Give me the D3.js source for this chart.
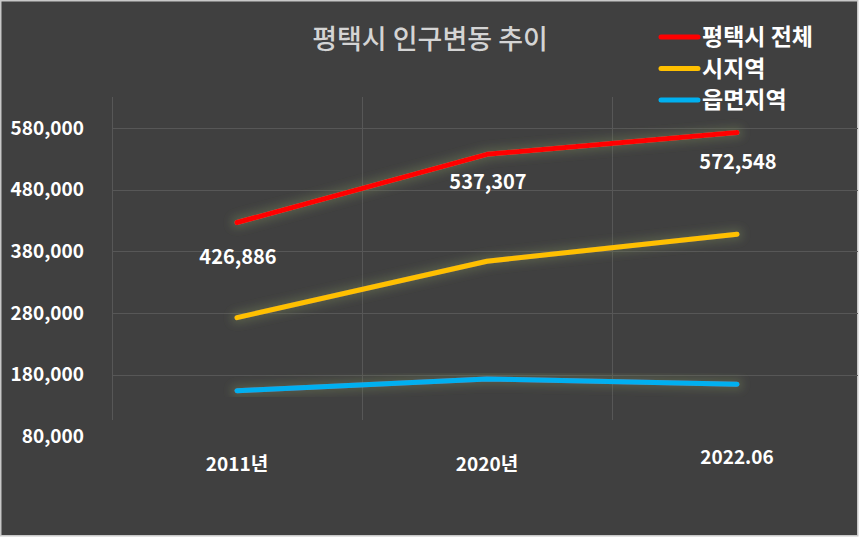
<!DOCTYPE html>
<html>
<head>
<meta charset="utf-8">
<script src="https://cdn.jsdelivr.net/npm/d3@7"></script>
<style>
	body { margin: 0; background: #ffffff; }
	svg text { font-family: "Noto Sans CJK KR", "Noto Sans", sans-serif; }
</style>
</head>
<body>
<svg id="chart" width="860" height="537"></svg>
<script>
// data
var categories = ['2011년', '2020년', '2022.06'];
var seriesNames = ['평택시 전체', '시지역', '읍면지역'];
var totalValues = [426886, 537307, 572548];
var cityValues = [272600, 364100, 407900];
var ruralValues = [154300, 173200, 164600];
var yTicks = [580000, 480000, 380000, 280000, 180000, 80000];
var colors = ['#ff0000', '#ffc000', '#00b0f0'];

var width = 860, height = 537;
var svg = d3.select('#chart');

//background and frame
svg.append('rect')
	.attr('x', 0.75).attr('y', 0.75)
	.attr('width', 857).attr('height', 535)
	.attr('fill', '#404040')
	.attr('stroke', '#c8c8c8')
	.attr('stroke-width', 1.5);

//glow filter behind the lines
var defs = svg.append('defs');
var glow = defs.append('filter').attr('id', 'glow')
	.attr('x', '-20%').attr('y', '-50%').attr('width', '140%').attr('height', '200%');
glow.append('feMorphology').attr('in', 'SourceAlpha').attr('operator', 'dilate').attr('radius', 3).attr('result', 'thick');
glow.append('feGaussianBlur').attr('in', 'thick').attr('stdDeviation', 4.5).attr('result', 'blur');
glow.append('feFlood').attr('flood-color', '#6f7d55').attr('flood-opacity', 0.45);
glow.append('feComposite').attr('in2', 'blur').attr('operator', 'in').attr('result', 'halo');
var merge = glow.append('feMerge');
merge.append('feMergeNode').attr('in', 'halo');
merge.append('feMergeNode').attr('in', 'SourceGraphic');

var x = d3.scaleBand().domain(categories).range([112, 862]);
var y = d3.scaleLinear().domain([80000, 580000]).range([436.5, 128]);

var plotTop = 97, plotBottom = 420;

//vertical gridlines at band edges
svg.append('g').selectAll('line')
	.data(categories)
	.enter()
	.append('line')
	.attr('x1', function(d){ return x(d) + 0.5; })
	.attr('x2', function(d){ return x(d) + 0.5; })
	.attr('y1', plotTop)
	.attr('y2', plotBottom)
	.attr('stroke', '#575757')
	.attr('stroke-width', 1);

//horizontal gridlines
svg.append('g').selectAll('line')
	.data(yTicks.filter(function(t){ return y(t) < plotBottom; }))
	.enter()
	.append('line')
	.attr('x1', 112)
	.attr('x2', 858)
	.attr('y1', function(d){ return Math.round(y(d)) + 0.5; })
	.attr('y2', function(d){ return Math.round(y(d)) + 0.5; })
	.attr('stroke', '#575757')
	.attr('stroke-width', 1);

//y axis labels
var yAxis = d3.axisLeft(y).tickValues(yTicks).tickSize(0).tickPadding(0)
	.tickFormat(d3.format(','));
var yg = svg.append('g').attr('transform', 'translate(84,0)').call(yAxis);
yg.select('.domain').remove();
yg.selectAll('text')
	.attr('fill', '#ffffff')
	.attr('font-size', 19)
	.attr('font-weight', 'bold')
	.style('font-family', '"Noto Sans CJK KR", sans-serif');

//x axis labels
var xAxis = d3.axisBottom(x).tickSize(0).tickPadding(0);
var xg = svg.append('g').attr('transform', 'translate(0,462)').call(xAxis);
xg.select('.domain').remove();
xg.selectAll('text')
	.attr('fill', '#ffffff')
	.attr('font-size', 19)
	.attr('font-weight', 'bold')
	.attr('dy', function(d, i){ return i == 2 ? '0.1em' : '0.45em'; })
	.style('font-family', '"Noto Sans CJK KR", sans-serif');

//lines
var series = [totalValues, cityValues, ruralValues];
var line = d3.line()
	.x(function(d, i){ return x(categories[i]) + x.bandwidth() / 2; })
	.y(function(d){ return y(d); });

svg.append('g').selectAll('path')
	.data(series.slice().reverse())
	.enter()
	.append('path')
	.attr('d', line)
	.attr('fill', 'none')
	.attr('stroke', function(d, i){ return colors[2 - i]; })
	.attr('stroke-width', 5)
	.attr('stroke-linecap', 'round')
	.attr('stroke-linejoin', 'round')
	.attr('filter', 'url(#glow)');

//data labels for the total
var labelOffsets = [35, 28, 29];
svg.append('g').selectAll('text')
	.data(totalValues)
	.enter()
	.append('text')
	.attr('x', function(d, i){ return x(categories[i]) + x.bandwidth() / 2 + 1; })
	.attr('y', function(d, i){ return y(d) + labelOffsets[i]; })
	.attr('dy', '0.35em')
	.attr('text-anchor', 'middle')
	.attr('fill', '#ffffff')
	.attr('font-size', 20)
	.attr('font-weight', 'bold')
	.text(function(d){ return d3.format(',')(d); });

//title
svg.append('text')
	.attr('x', 430)
	.attr('y', 40)
	.attr('dy', '0.35em')
	.attr('text-anchor', 'middle')
	.attr('fill', '#d4d4d4')
	.attr('font-size', 27)
	.attr('font-weight', 500)
	.text('평택시 인구변동 추이');

//legend
var legend = svg.append('g').selectAll('g')
	.data(seriesNames)
	.enter()
	.append('g')
	.attr('transform', function(d, i){ return 'translate(661,' + (37 + i * 31.5) + ')'; });
legend.append('line')
	.attr('x1', 0).attr('x2', 37)
	.attr('stroke', function(d, i){ return colors[i]; })
	.attr('stroke-width', 5)
	.attr('stroke-linecap', 'round');
legend.append('text')
	.attr('x', 41)
	.attr('dy', '0.35em')
	.attr('fill', '#ffffff')
	.attr('font-size', 23)
	.attr('font-weight', 'bold')
	.text(function(d){ return d; });
</script>
</body>
</html>
